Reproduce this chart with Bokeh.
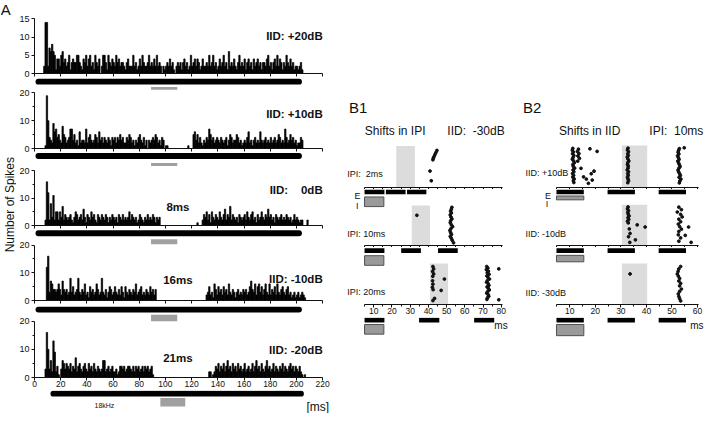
import math
from bokeh.plotting import figure
from bokeh.layouts import row, column
from bokeh.models import Range1d, FixedTicker, LinearAxis, Spacer
from bokeh.embed import file_html
from bokeh.resources import INLINE
from bokeh.core.properties import value

# ======================= DATA =======================
# Panel A: spike counts per 1-ms bin (bin 0 = 0-1 ms)
A_counts_p20 = [0,0,0,0,0,0,0,2,14,14, 2,7,6,8,6,5,1,4,4,2, 5,6,3,4,2,3,5,1,3,4,
                3,3,5,5,3,2,1,4,3,5, 2,4,5,2,3,1,5,3,2,4, 0,2,5,5,3,1,5,3,2,4,
                3,2,5,3,4,2,3,3,2,1, 3,4,2,2,2,5,2,3,1,2, 4,2,5,3,2,2,3,5,2,3,
                2,4,2,5,2,3,2,0,2,1, 2,3,2,4,2,3,1,0,2,3, 2,3,1,3,4,2,3,1,2,5,
                2,3,4,2,4,3,1,2,4,2, 2,3,2,5,2,3,5,2,3,1, 2,4,2,3,5,2,3,1,6,2,
                3,2,4,2,1,3,5,2,3,2, 4,1,3,4,2,3,1,4,2,3, 4,2,3,1,3,3,2,4,5,2,
                3,1,3,4,2,5,2,4,3,1, 3,2,5,3,2,4,2,3,1,2, 2,1,2,3,1,0,0,0,0,0]
A_counts_p10 = [0,0,0,0,0,0,0,0,1,19, 10,4,3,2,9,6,7,4,5,3, 2,8,5,4,2,3,4,7,7,3,
                5,2,3,1,6,2,3,3,2,7, 2,4,5,3,2,3,5,4,2,6, 3,4,2,4,3,2,4,3,1,4,
                3,4,2,4,3,5,3,4,2,2, 4,3,5,4,2,3,1,3,2,4, 5,3,2,4,1,3,0,3,2,3,
                4,3,5,4,2,3,1,4,3,0, 1,1,0,0,0,0,0,0,0,0, 0,0,0,0,0,0,0,1,0,0,
                0,5,6,3,5,2,4,2,1,3, 2,4,3,7,5,3,4,2,3,4, 3,2,4,3,2,3,4,1,3,5,
                4,2,3,3,5,4,2,3,1,2, 3,2,4,6,2,3,1,3,4,2, 3,2,6,3,2,3,4,2,3,2,
                4,2,3,4,2,3,5,4,2,3, 2,7,4,2,3,5,3,4,2,3, 1,2,2,4,3,0,0,0,0,0]
A_counts_0 = [0,0,0,0,0,0,0,0,2,16, 12,2,8,3,11,2,5,5,2,5, 3,7,2,4,3,2,3,4,2,1,
              3,5,4,2,3,4,2,6,3,1, 4,3,2,5,3,4,2,1,4,3, 2,4,3,2,4,3,1,3,2,4,
              3,2,3,1,4,3,2,4,2,3, 2,3,5,2,4,3,2,3,1,2, 4,3,2,1,3,2,4,2,3,2,
              4,3,1,3,2,3,0,0,0,0, 0,0,0,0,0,0,0,0,0,0, 0,0,0,0,0,0,0,0,0,0,
              0,0,0,0,1,0,0,0,2,4, 3,5,2,4,1,5,3,2,4,3, 2,5,3,2,4,6,2,4,3,7,
              2,4,3,2,3,1,4,3,2,3, 4,2,5,3,2,4,5,2,3,1, 4,2,3,5,3,2,4,3,6,3,
              4,2,3,1,4,3,2,3,4,2, 3,2,4,3,2,3,1,2,4,2, 3,2,1,2,2,0,0,0,2,0]
A_counts_m10 = [0,0,0,0,0,0,0,0,0,12, 16,3,7,6,4,4,3,4,6,4, 2,7,4,3,4,2,3,8,3,5,
                2,3,4,8,3,2,4,3,6,2, 3,1,5,3,4,2,3,6,4,2, 3,8,3,2,4,1,3,5,4,2,
                3,5,3,2,4,2,5,3,1,5, 3,2,4,3,2,4,3,6,2,3, 4,5,2,3,2,4,3,2,5,3,
                4,2,4,0,0,0,0,0,0,0, 0,0,0,0,0,0,0,0,0,0, 0,0,0,0,0,0,0,0,0,0,
                0,0,0,0,0,0,0,0,0,0, 0,2,3,5,2,3,1,6,4,2, 5,3,4,2,5,3,4,2,6,3,
                2,4,3,1,3,4,2,3,2,4, 3,4,2,3,5,7,4,3,6,2, 5,6,3,5,2,4,6,3,2,6,
                2,4,3,5,2,6,3,2,4,5, 3,2,4,5,2,3,1,2,3,1, 2,3,1,2,3,2,1,0,0,0]
A_counts_m20 = [0,0,0,0,0,0,0,0,3,16, 10,3,6,2,13,9,2,4,1,0, 3,6,5,3,5,4,3,5,2,4,
                3,7,2,4,5,3,2,4,5,3, 2,5,3,4,2,5,3,2,4,3, 2,3,6,6,2,3,4,2,3,4,
                2,2,3,1,2,4,4,3,4,2, 3,4,4,3,2,4,2,4,3,4, 2,3,4,2,4,3,4,2,3,4,
                1,0,0,0,0,0,0,0,0,0, 0,0,0,0,0,0,0,0,0,0, 0,0,0,0,0,0,0,0,0,0,
                0,0,0,0,0,0,0,0,0,0, 0,0,0,2,2,0,1,2,4,3, 5,2,4,3,5,2,4,6,3,4,
                2,5,3,4,2,5,3,4,2,3, 5,2,3,4,2,3,5,2,4,6, 3,4,2,5,3,2,4,6,3,4,
                2,3,5,2,4,3,2,4,3,5, 2,4,3,2,4,5,3,4,2,4, 3,2,4,2,1,0,1,0,0,0]
A_counts = [A_counts_p20, A_counts_p10, A_counts_0, A_counts_m10, A_counts_m20]
A_ymax = [15, 20, 20, 20, 20]
A_yticks = [[0, 5, 10, 15], [0, 10, 20], [0, 10, 20], [0, 10, 20], [0, 10, 20]]
A_yminor = [[], [5, 15], [5, 15], [5, 15], [5, 15]]
A_xticks = [0, 20, 40, 60, 80, 100, 120, 140, 160, 180, 200, 220]
A_iid = ["IID: +20dB", "IID: +10dB", "IID:\u00a0\u00a0\u00a0 0dB", "IID: -10dB", "IID: -20dB"]
A_shift = ["", "", "8ms", "16ms", "21ms"]
A_excit = [3, 202]        # ms, excitatory (18kHz) stimulus
A_inhib = [89, 109]       # ms, inhibitory stimulus

# Panel B1: shifts in IPI (IID -30 dB)
B1_rows = ["IPI:\u00a0 2ms", "IPI: 10ms", "IPI: 20ms"]
B1_shade = [(22.4, 32.6), (30.9, 40.9), (40.9, 50.8)]
B1_E = [[(5.0, 15.9), (16.7, 27.5), (28.3, 38.9)],
        [(5.0, 15.9), (25.1, 35.9), (45.3, 56.1)],
        [(5.0, 15.9), (34.9, 46.0), (65.1, 76.1)]]
B1_I = (5.0, 15.6)
B1_r1_ms = [44.7, 44.1, 43.6, 43.1, 42.7, 42.5, 40.9, 41.6]
B1_r1_tr = [18.7, 17.6, 16.6, 15.6, 14.8, 14.0, 8.3, 3.4]
B1_r2_ms = [33.7, 52.9, 52.6, 52.2, 52.6, 52.0, 52.4, 52.9, 52.2, 52.0, 52.6,
            53.3, 52.4, 51.8, 52.2, 52.7, 52.0, 52.6, 53.1, 53.8]
B1_r2_tr = [15.9, 20.1, 19.1, 18.1, 17.1, 16.1, 15.0, 14.0, 13.0, 12.0, 10.9,
            9.9, 8.9, 7.9, 6.8, 5.8, 4.8, 3.8, 2.7, 1.4]
B1_r3_ms = [42.5, 42.9, 42.3, 42.9, 42.4, 42.3, 42.5, 42.2, 42.6, 43.4, 42.5, 48.8, 47.0,
            72.0, 72.6, 71.8, 72.9, 72.3, 73.3, 72.1, 72.7, 73.5, 72.4, 71.9, 72.8,
            73.2, 72.2, 72.9, 73.4, 72.5, 72.0, 72.8, 73.1, 72.4, 72.1, 78.6, 78.6]
B1_r3_tr = [19.4, 18.2, 16.9, 15.6, 14.4, 12.1, 10.4, 8.8, 7.6, 3.1, 2.0, 13.0, 7.2,
            19.4, 18.6, 17.8, 17.0, 16.2, 15.4, 14.6, 13.8, 13.0, 12.2, 11.4, 10.6,
            9.8, 9.0, 8.2, 7.4, 6.6, 5.8, 5.0, 4.2, 3.4, 2.6, 18.2, 2.4]
B1_ms = [B1_r1_ms, B1_r2_ms, B1_r3_ms]
B1_tr = [B1_r1_tr, B1_r2_tr, B1_r3_tr]
B1_xticks = [10, 20, 30, 40, 50, 60, 70, 80]
B1_xminor = [5, 15, 25, 35, 45, 55, 65, 75]

# Panel B2: shifts in IID (IPI 10 ms)
B2_rows = ["IID: +10dB", "IID: -10dB", "IID: -30dB"]
B2_shade = [(30.4, 40.3), (30.4, 40.3), (30.4, 40.3)]
B2_E = [[(4.8, 15.5), (24.8, 35.5), (44.8, 55.5)]] * 3
B2_I = (4.8, 15.5)
B2_r1_ms = [11.2, 11.0, 11.4, 11.1, 11.6, 11.3, 11.0, 11.5, 11.8, 11.2, 11.4, 11.9, 11.3, 11.6,
            11.1, 11.5, 11.2, 11.7, 11.4, 11.6,
            13.4, 13.0, 13.6, 13.2, 13.8, 13.1,
            17.9, 20.7, 14.4, 19.5, 18.4, 15.4, 16.5, 18.8, 17.3,
            32.8, 32.6, 33.0, 32.7, 32.9, 32.5, 32.8, 33.1, 32.7, 32.6, 32.9, 32.8, 32.5, 33.0,
            32.7, 32.9, 32.6, 32.8, 33.0, 32.7,
            52.9, 52.6, 52.4, 52.7, 52.2, 52.5, 52.8, 52.3, 52.6, 52.9, 53.2, 52.7, 52.4, 52.6,
            53.0, 53.3, 52.8, 53.5, 53.1, 52.9, 54.8]
B2_r1_tr = [19.6, 18.7, 17.8, 16.9, 16.0, 15.1, 14.2, 13.3, 12.4, 11.5, 10.6, 9.7, 8.8, 7.9,
            7.0, 6.1, 5.2, 4.3, 3.4, 2.5,
            19.2, 18.0, 17.0, 15.8, 14.6, 13.2,
            19.4, 18.1, 9.6, 8.2, 6.9, 5.3, 4.2, 3.7, 2.1,
            19.7, 18.8, 17.9, 16.9, 16.0, 15.2, 14.2, 13.3, 12.4, 11.5, 10.7, 9.7, 8.8, 7.9,
            7.0, 6.1, 5.2, 4.3, 3.4, 2.4,
            19.5, 18.6, 17.7, 16.8, 15.9, 15.0, 14.1, 13.2, 12.3, 11.4, 10.5, 9.6, 8.7, 7.8,
            6.9, 6.0, 5.1, 4.2, 3.3, 2.3, 19.9]
B2_r2_ms = [32.8, 32.6, 33.0, 32.7, 32.9, 33.2, 32.8, 33.1, 32.6, 32.9, 33.3, 33.6, 33.0, 33.5,
            36.4, 39.5, 35.7,
            52.7, 53.7, 52.1, 53.4, 54.0, 52.7, 53.4, 52.5, 53.0, 53.7, 52.7, 52.5, 53.4, 52.7,
            56.5, 55.2, 57.5]
B2_r2_tr = [19.8, 18.8, 17.9, 17.0, 16.1, 15.2, 14.3, 13.4, 12.5, 11.6, 8.5, 6.2, 4.5, 1.6,
            10.6, 9.5, 2.9,
            19.7, 18.4, 17.2, 16.0, 14.7, 13.5, 12.2, 11.0, 9.7, 8.4, 7.2, 5.5, 3.9, 2.2,
            9.5, 5.2, 1.6]
B2_r3_ms = [33.6, 53.4, 52.7, 52.4, 52.1, 52.5, 53.0, 52.7, 53.4, 53.0, 53.7, 53.0, 52.5,
            52.7, 53.0, 53.4]
B2_r3_tr = [15.6, 19.4, 18.2, 16.9, 15.6, 14.5, 13.3, 12.0, 10.8, 9.5, 7.9, 6.7, 5.4,
            4.1, 3.0, 1.8]
B2_ms = [B2_r1_ms, B2_r2_ms, B2_r3_ms]
B2_tr = [B2_r1_tr, B2_r2_tr, B2_r3_tr]
B2_xticks = [10, 20, 30, 40, 50, 60]
B2_xminor = [5, 15, 25, 35, 45, 55]
N_TRIALS_SPAN = 21

# ======================= STYLE / LAYOUT =======================
FONT = "Liberation Sans"
INK = "#111111"
BAR = "#000000"
GRAY = "#a0a0a0"
IBOX = "#9a9a9a"
IEDGE = "#505050"
SHADE = "#dcdcdc"
TOTAL_H = 413


def X(r):
    return (r - 2.0) * 0.982


def Y(r):
    return (r - 2.0) * 0.963


class Lin:
    def __init__(self, p0, v0, p1, v1):
        self.p0, self.v0 = p0, v0
        self.k = (v1 - v0) / (p1 - p0)

    def __call__(self, p):
        return self.v0 + (p - self.p0) * self.k


def base_fig(w, h, xr, yr, bl=0, br=0, bt=0, bb=0):
    p = figure(width=w, height=h, x_range=xr, y_range=yr,
               x_axis_type=None, y_axis_type=None,
               output_backend="svg", toolbar_location=None,
               min_border=0, min_border_left=bl, min_border_right=br,
               min_border_top=bt, min_border_bottom=bb)
    p.outline_line_color = None
    p.background_fill_color = "white"
    p.border_fill_color = "white"
    return p


def txt(p, x, y, s, size, align="left", baseline="middle", bold=False, angle=0.0):
    p.text(x=[x], y=[y], text=[s], angle=angle, text_font=value(FONT),
           text_font_size=value(size), text_font_style=value("bold" if bold else "normal"),
           text_align=value(align), text_baseline=value(baseline), text_color=INK)


def make_axis(ticks, minor, bounds, fs, major_out, minor_out, standoff):
    ax = LinearAxis(ticker=FixedTicker(ticks=ticks, minor_ticks=minor), bounds=bounds)
    ax.axis_line_color = INK
    ax.axis_line_width = 1
    ax.major_tick_line_color = INK
    ax.minor_tick_line_color = INK
    ax.major_tick_in = 0
    ax.minor_tick_in = 0
    ax.major_tick_out = major_out
    ax.minor_tick_out = minor_out
    ax.major_label_standoff = standoff
    ax.major_label_text_font = FONT
    ax.major_label_text_font_size = fs
    ax.major_label_text_color = INK
    return ax


# ---------- left label strip ----------
LBL_W = 16
lab = base_fig(LBL_W, TOTAL_H, Range1d(0, LBL_W), Range1d(TOTAL_H, 0))
txt(lab, 0.3, 0.0, "A", "15px", baseline="top")
txt(lab, X(12), Y(214), "Number of Spikes", "12px", align="center", angle=math.pi / 2)

# ---------- column A ----------
COLA_L, COLA_R = 16, 338
A_BL = 16
xA = Lin(32, 0, 322, 220)
A_tops = [0, 77, 152, 229, 304]
A_fbots = [73, 148, 225, 300, 377]
A_bots = [77, 152, 229, 304, 390]
A_ytop_ref = [21, 98, 179, 256, 335]
A_iid_ref_y = [39, 120, 199, 291, 365.3]
A_shift_ref_y = [0, 0, 216.2, 292, 373.3]
A_black_ref = [86.3, 163.5, 243.7, 323.0, 408.5]
A_gray_ref = [93.3, 172.3, 252.5, 331.7, 418.3]
A_gray_th = [2.7, 3.3, 5.0, 6.7, 8.7]
BLACK_W = 5.8


def draw_A_stim(p, ymap, k, black_px, gray_px):
    yb = ymap(black_px)
    p.segment(x0=[A_excit[0]], y0=[yb], x1=[A_excit[1]], y1=[yb],
              line_color=BAR, line_width=BLACK_W, line_cap="round")
    yg = ymap(gray_px)
    p.segment(x0=[A_inhib[0]], y0=[yg], x1=[A_inhib[1]], y1=[yg],
              line_color=GRAY, line_width=A_gray_th[k] * 0.963, line_cap="butt")


colA_children = []
for i in range(5):
    top, fb, bot = A_tops[i], A_fbots[i], A_bots[i]
    ymap = Lin(fb, 0, Y(A_ytop_ref[i]), A_ymax[i])
    xr = Range1d(0, xA(COLA_R))
    yr = Range1d(0, ymap(top))
    p = base_fig(COLA_R - COLA_L, bot - top, xr, yr, bl=A_BL, bb=bot - fb)
    last = (i == 4)
    xa = make_axis(A_xticks if last else [], [] if last else A_xticks, (0, 220),
                   "8.5px", 3, 3, 0)
    p.add_layout(xa, "below")
    ya = make_axis(A_yticks[i], A_yminor[i], (0, A_ymax[i]), "9px", 3, 2, 2)
    p.add_layout(ya, "left")
    counts = A_counts[i]
    centers = [b + 0.5 for b in range(len(counts))]
    p.vbar(x=centers, top=counts, bottom=0, width=1.0, fill_color=BAR,
           line_color=BAR, line_width=0.75)
    if i > 0:
        draw_A_stim(p, ymap, i - 1, Y(A_black_ref[i - 1]), Y(A_gray_ref[i - 1]))
    txt(p, xA(X(330)), ymap(Y(A_iid_ref_y[i])), A_iid[i], "11.5px", align="right", bold=True)
    if A_shift[i]:
        txt(p, xA(X(181.6)), ymap(Y(A_shift_ref_y[i])), A_shift[i], "11.5px",
            align="center", bold=True)
    colA_children.append(p)

# bottom strip of column A
S5_top = A_bots[4]
s5 = base_fig(COLA_R - COLA_L, TOTAL_H - S5_top, Range1d(xA(COLA_L), xA(COLA_R)),
              Range1d(TOTAL_H, S5_top))
ident = lambda v: v
bpx = max(Y(A_black_ref[4]), S5_top + 3.2)
gpx = max(Y(A_gray_ref[4]), bpx + BLACK_W / 2 + 1.5 + A_gray_th[4] * 0.963 / 2)
draw_A_stim(s5, ident, 4, bpx, gpx)
txt(s5, xA(X(93.7)), Y(423), "18kHz", "7px", align="center")
txt(s5, xA(X(311.7)), Y(424.2), "[ms]", "12px")
colA_children.append(s5)
colA = column(*colA_children, spacing=0)

# ---------- columns B ----------
R_tops = [0, 189, 247]
R_fb = [187, 245, 304]
R_bots = [189, 247, 317]
S_top = 317


def build_B(colL, colR, xmap, xticks, xminor, xbounds, shade_top_ref, shades, ms, tr,
            E, I_span, E_ref, I_ref, I_th, row_labels, row_x_ref, row_y_ref,
            header, EI_pos, ms_right_px):
    kids = []

    def draw_stim(p, ymap, k, e_px, i_px):
        for (a, b) in E[k]:
            p.quad(left=[a], right=[b], top=[ymap(e_px - 2.4)], bottom=[ymap(e_px + 2.4)],
                   fill_color=BAR, line_color=None)
        h = I_th[k] * 0.963 / 2
        p.quad(left=[I_span[0]], right=[I_span[1]], top=[ymap(i_px - h)], bottom=[ymap(i_px + h)],
               fill_color=IBOX, line_color=IEDGE, line_width=1)

    for k in range(3):
        top, fb, bot = R_tops[k], R_fb[k], R_bots[k]
        ymap = Lin(fb, 0, Y(shade_top_ref[k]), N_TRIALS_SPAN)
        xr = Range1d(xmap(colL), xmap(colR))
        yr = Range1d(0, ymap(top))
        p = base_fig(colR - colL, bot - top, xr, yr, bb=bot - fb)
        last = (k == 2)
        ax = make_axis(xticks if last else [], xminor if last else sorted(xticks + xminor),
                       xbounds, "8.5px", 3 if last else 2, 2, 0)
        p.add_layout(ax, "below")
        p.quad(left=[shades[k][0]], right=[shades[k][1]], bottom=[0], top=[N_TRIALS_SPAN],
               fill_color=SHADE, line_color=None)
        p.scatter(x=ms[k], y=tr[k], size=2.8, color=INK, marker="circle")
        if k > 0:
            draw_stim(p, ymap, k - 1, Y(E_ref[k - 1]), Y(I_ref[k - 1]))
        txt(p, xmap(X(row_x_ref)), ymap(Y(row_y_ref[k])), row_labels[k], "9px")
        if k == 0:
            for (s, rx, ry, fs) in header:
                txt(p, xmap(X(rx)), ymap(Y(ry)), s, fs)
        if k == 1:
            (ex, ey, ix, iy) = EI_pos
            txt(p, xmap(X(ex)), ymap(ey), "E", "9px", align="center", baseline="alphabetic")
            txt(p, xmap(X(ix)), ymap(iy), "I", "9px", align="center", baseline="alphabetic")
        kids.append(p)
    s = base_fig(colR - colL, TOTAL_H - S_top, Range1d(xmap(colL), xmap(colR)),
                 Range1d(TOTAL_H, S_top))
    e_px = max(Y(E_ref[2]), S_top + 2.6)
    i_px = max(Y(I_ref[2]), e_px + 2.4 + 2.0 + I_th[2] * 0.963 / 2)
    draw_stim(s, lambda v: v, 2, e_px, i_px)
    txt(s, xmap(ms_right_px), Y(340), "ms", "10px", align="right")
    kids.append(s)
    return column(*kids, spacing=0)


B1_L, B1_R = 344, 512
xB1 = Lin(X(382), 10, X(512), 80)
colB1 = build_B(B1_L, B1_R, xB1, B1_xticks, B1_xminor, (5, 80.5),
                [153, 215, 275], B1_shade, B1_ms, B1_tr, B1_E, B1_I,
                [200.7, 261.7, 332.0], [211.0, 272.0, 342.0], [10.0, 10.0, 10.0],
                B1_rows, 355, [182, 244, 305],
                [("B1", 357, 113, "15px"), ("Shifts in IPI", 373, 138, "12px"),
                 ("IID:\u00a0 -30dB", 457, 138, "12px")],
                (365.5, 195.6, 365.3, 205.3), X(518.5))

B2_L, B2_R = 516, 704
xB2 = Lin(X(581.7), 10, 697.0, 60)
colB2 = build_B(B2_L, B2_R, xB2, B2_xticks, B2_xminor, (4.8, 60.5),
                [152.7, 214, 275], B2_shade, B2_ms, B2_tr, B2_E, B2_I,
                [200.8, 261.7, 331.7], [207.0, 270.0, 342.5], [4.0, 6.7, 11.6],
                B2_rows, 536.7, [181, 244.3, 306],
                [("B2", 534, 113, "15px"), ("Shifts in IID", 570.7, 138, "12px"),
                 ("IPI:\u00a0 10ms", 662.7, 138, "12px")],
                (559.5, 195.6, 558.5, 203.0), 703.0)

root = row(lab, colA, Spacer(width=B1_L - COLA_R, height=TOTAL_H), colB1,
           Spacer(width=B2_L - B1_R, height=TOTAL_H), colB2, spacing=0)

with open("out.html", "w") as f:
    f.write(file_html(root, INLINE))
